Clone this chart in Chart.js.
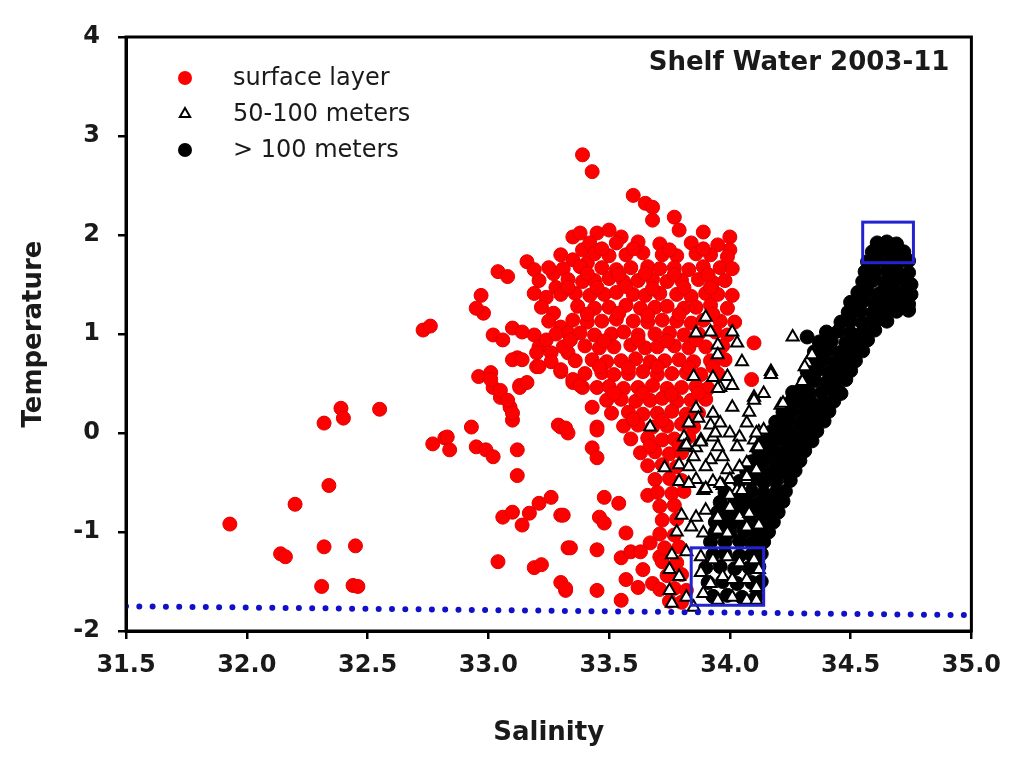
<!DOCTYPE html>
<html>
<head>
<meta charset="utf-8">
<script src="https://cdn.jsdelivr.net/npm/chart.js@4.4.1/dist/chart.umd.min.js"></script>
<style>
  html, body { margin: 0; padding: 0; background: #fff; overflow: hidden; }
  #wrap { width: 1013px; height: 762px; position: relative; }
</style>
</head>
<body>
<div id="wrap"><canvas id="tsChart"></canvas></div>
<script>
// T-S diagram, shelf water, Nov 2003
const chartTitle = 'Shelf Water 2003-11';
const xTitle = 'Salinity';
const yTitle = 'Temperature';
const salinityTicks = [31.5, 32.0, 32.5, 33.0, 33.5, 34.0, 34.5, 35.0];
const temperatureTicks = [-2, -1, 0, 1, 2, 3, 4];
const seriesLabels = ['surface layer', '50-100 meters', '> 100 meters'];

// [salinity, temperature]
const surfaceLayer = [
  [31.93,-0.92],[32.14,-1.22],[32.16,-1.25],[32.20,-0.72],[32.32,0.10],[32.39,0.25],[32.40,0.15],
  [32.55,0.24],[32.34,-0.53],[32.32,-1.15],[32.45,-1.14],[32.31,-1.55],[32.44,-1.54],[32.46,-1.55],
  [32.73,1.04],[32.76,1.08],[32.77,-0.11],[32.82,-0.05],[32.84,-0.17],[32.83,-0.04],[32.93,0.06],
  [32.95,-0.14],[32.99,-0.17],[33.02,-0.24],[33.12,-0.17],[33.12,-0.43],[33.29,0.08],[33.33,0.00],
  [33.06,-0.85],[33.10,-0.80],[33.14,-0.93],[33.17,-0.81],[33.21,-0.71],[33.26,-0.65],[33.30,-0.83],
  [33.04,-1.30],[33.19,-1.36],[33.22,-1.33],[33.33,-1.16],[33.30,-1.51],[33.32,-1.59],
  [32.97,1.39],[32.98,1.21],[32.95,1.26],[33.04,1.63],[33.08,1.58],[33.16,1.73],[33.19,1.65],
  [33.02,0.99],[33.06,0.94],[32.96,0.57],[33.01,0.61],[33.02,0.46],[33.05,0.36],[33.09,0.26],
  [33.10,0.13],[33.13,0.48],[33.10,1.06],[33.12,0.76],[33.19,0.99],[33.20,0.67],[33.26,0.81],
  [33.30,0.62],[33.21,0.87],[33.35,0.51],[33.14,1.02],[33.19,1.41],[33.24,1.37],[33.27,1.61],
  [33.28,1.47],[33.35,1.98],[33.38,2.02],[33.39,1.85],[33.41,1.72],[33.35,1.75],[33.45,2.02],
  [33.50,2.05],[33.55,1.98],[33.60,2.40],[33.01,0.54],[33.05,0.43],[33.08,0.33],[33.10,0.20],
  [33.13,0.46],[33.16,0.51],[33.10,0.74],[33.14,0.74],[33.20,0.81],[33.21,0.67],[33.26,0.72],
  [33.30,0.64],[33.33,0.81],[33.35,0.54],[33.39,0.46],[33.43,0.26],[33.45,0.06],[33.30,0.06],
  [33.27,1.21],[33.30,1.07],[33.33,1.01],[33.24,0.94],
  [33.39,2.81],[33.43,2.64],[33.65,2.32],[33.68,2.28],[33.68,2.15],[33.77,2.18],[33.79,2.05],
  [33.89,2.03],[34.00,1.98],[34.00,1.85],[34.10,0.91],[34.09,0.54],
  [33.38,0.48],[33.45,0.03],[33.32,0.05],[33.43,-0.15],[33.45,-0.25],[33.48,-0.65],[33.54,-0.71],
  [33.46,-0.85],[33.48,-0.91],[33.31,-0.83],[33.57,-1.01],[33.67,-1.11],[33.34,-1.16],[33.45,-1.18],
  [33.55,-1.26],[33.59,-1.20],[33.63,-1.20],[33.66,-0.63],[33.64,-1.38],[33.57,-1.48],[33.62,-1.56],
  [33.55,-1.69],[33.45,-1.59],[33.32,-1.57],[33.68,-1.52],[33.71,-1.25],
  [33.42,1.92],[33.53,1.92],[33.62,1.93],[33.71,1.91],[33.84,1.92],[33.95,1.90],
  [33.30,1.80],[33.44,1.81],[33.50,1.79],[33.57,1.80],[33.64,1.82],[33.72,1.80],[33.78,1.79],[33.86,1.81],[33.92,1.80],[33.99,1.78],
  [33.25,1.67],[33.31,1.66],[33.38,1.68],[33.47,1.67],[33.53,1.65],[33.59,1.67],[33.66,1.68],[33.71,1.66],[33.77,1.67],[33.83,1.65],[33.89,1.68],[33.96,1.67],[34.01,1.66],
  [33.21,1.54],[33.33,1.55],[33.39,1.53],[33.44,1.54],[33.50,1.56],[33.56,1.53],[33.62,1.54],[33.68,1.55],[33.74,1.53],[33.80,1.54],[33.87,1.55],[33.93,1.52],[33.98,1.54],
  [33.30,1.40],[33.36,1.41],[33.42,1.39],[33.48,1.40],[33.53,1.42],[33.60,1.40],[33.65,1.39],[33.71,1.41],[33.78,1.40],[33.84,1.38],[33.90,1.41],[33.95,1.40],[34.01,1.39],
  [33.22,1.27],[33.37,1.28],[33.44,1.26],[33.50,1.27],[33.57,1.29],[33.63,1.26],[33.69,1.27],[33.74,1.28],[33.81,1.26],[33.86,1.27],[33.92,1.29],[33.99,1.26],
  [33.25,1.13],[33.35,1.14],[33.41,1.12],[33.47,1.13],[33.53,1.15],[33.60,1.13],[33.66,1.12],[33.72,1.14],[33.78,1.13],[33.84,1.11],[33.89,1.14],[33.96,1.13],[34.02,1.12],
  [33.28,1.00],[33.38,1.01],[33.44,0.99],[33.51,1.00],[33.56,1.02],[33.62,0.99],[33.69,1.00],[33.75,1.01],[33.81,0.99],[33.87,1.00],[33.94,1.02],[33.99,0.99],
  [33.31,0.87],[33.40,0.88],[33.46,0.86],[33.52,0.87],[33.59,0.89],[33.65,0.86],[33.70,0.87],[33.77,0.88],[33.83,0.86],[33.90,0.87],[33.97,0.88],
  [33.36,0.73],[33.43,0.74],[33.49,0.72],[33.55,0.73],[33.61,0.75],[33.67,0.72],[33.73,0.73],[33.79,0.74],[33.85,0.72],[33.92,0.73],[33.98,0.74],
  [33.40,0.60],[33.47,0.61],[33.52,0.59],[33.58,0.60],[33.64,0.62],[33.70,0.59],[33.76,0.60],[33.82,0.61],[33.88,0.59],[33.95,0.60],
  [33.45,0.46],[33.50,0.47],[33.56,0.45],[33.62,0.46],[33.68,0.48],[33.74,0.45],[33.80,0.46],[33.86,0.47],[33.91,0.45],
  [33.49,0.33],[33.55,0.34],[33.61,0.32],[33.67,0.33],[33.72,0.35],[33.78,0.32],[33.84,0.33],[33.90,0.34],
  [33.51,0.20],[33.58,0.21],[33.64,0.19],[33.70,0.20],[33.76,0.22],[33.82,0.19],[33.87,0.20],
  [33.56,0.07],[33.62,0.08],[33.68,0.06],[33.74,0.07],[33.80,0.09],[33.85,0.06],
  [33.59,-0.06],[33.66,-0.05],[33.72,-0.07],[33.77,-0.06],[33.83,-0.04],
  [33.63,-0.20],[33.69,-0.19],[33.75,-0.21],[33.80,-0.20],
  [33.66,-0.33],[33.72,-0.32],[33.78,-0.34],
  [33.69,-0.47],[33.75,-0.46],[33.80,-0.48],
  [33.70,-0.60],[33.76,-0.61],[33.81,-0.59],
  [33.71,-0.74],[33.77,-0.73],[33.72,-0.88],[33.78,-0.87],[33.71,-1.02],[33.77,-1.03],
  [33.73,-1.16],[33.79,-1.15],[33.72,-1.30],[33.78,-1.31],[33.74,-1.44],[33.80,-1.43],
  [33.71,-1.58],[33.77,-1.57],[33.82,-1.59],[33.75,-1.70],[33.80,-1.71],
  // in-fill between rows of the dense core
  [33.47,1.86],[33.60,1.86],[33.75,1.85],[33.89,1.86],
  [33.41,1.61],[33.54,1.60],[33.65,1.61],[33.77,1.60],[33.91,1.60],
  [33.33,1.47],[33.45,1.47],[33.57,1.48],[33.68,1.46],[33.81,1.47],[33.92,1.47],
  [33.41,1.20],[33.54,1.21],[33.66,1.19],[33.79,1.20],[33.93,1.20],
  [33.34,0.94],[33.48,0.93],[33.62,0.94],[33.74,0.93],[33.86,0.94],
  [33.46,0.67],[33.58,0.66],[33.70,0.67],[33.83,0.66],[33.93,0.67],
  [33.52,0.40],[33.64,0.40],[33.76,0.39],[33.87,0.40],
  [33.60,0.14],[33.72,0.13],[33.83,0.14],
  [33.67,-0.13],[33.79,-0.12]
];

const midDepth = [
  [33.90,1.17],[33.86,1.01],[33.92,1.02],[34.01,1.02],[33.95,0.89],[34.03,0.91],[33.95,0.79],
  [34.05,0.72],[34.26,0.97],[34.32,0.71],[34.17,0.62],[33.85,0.57],[33.93,0.56],[33.99,0.57],
  [33.96,0.46],[34.14,0.40],[34.10,0.36],[34.21,0.28],[34.08,0.21],[33.86,0.25],[34.01,0.26],
  [33.67,0.06],[33.83,0.10],[33.87,0.15],[33.92,0.08],[33.96,0.10],[33.81,-0.04],[33.88,-0.07],
  [33.93,-0.04],[34.00,0.00],[34.04,-0.04],[34.10,-0.07],[34.12,0.01],[33.81,-0.14],[33.86,-0.15],
  [33.95,-0.14],[34.03,-0.14],[34.11,-0.15],[33.85,-0.24],[33.92,-0.27],[33.97,-0.24],[34.07,-0.30],
  [33.79,-0.32],[33.73,-0.35],[33.83,-0.34],[33.90,-0.34],[33.99,-0.37],[34.04,-0.34],[33.79,-0.49],
  [33.86,-0.47],[33.93,-0.49],[34.00,-0.47],[34.07,-0.47],[33.89,-0.58],[33.97,-0.53],[34.03,-0.58],
  [34.34,0.79],[34.31,0.67],[34.30,0.52],[34.14,0.03],[33.95,0.45],[34.01,0.48],[33.93,0.20],
  [34.10,0.33],[34.17,0.59],[34.22,0.30],[33.82,-0.12],[33.88,-0.09],[33.94,0.00],[34.07,0.10],
  [34.11,0.00],[34.12,-0.14],[34.07,-0.44],[34.11,-0.37],[33.83,-0.51],[33.90,-0.56],[33.96,-0.51],
  [34.00,-0.63],[34.05,-0.58],[33.80,-0.83],[33.86,-0.85],[33.90,-0.78],[33.95,-0.85],[34.00,-0.75],
  [34.04,-0.85],[34.08,-0.81],[33.78,-1.00],[33.84,-0.95],[33.89,-1.01],[33.95,-0.98],[33.99,-1.01],
  [34.07,-0.95],[34.12,-0.93],[33.76,-1.23],[33.82,-1.20],[33.88,-1.25],[33.93,-1.28],[33.99,-1.25],
  [34.04,-1.31],[34.10,-1.28],[34.12,-1.38],[33.75,-1.38],[33.79,-1.45],[33.88,-1.41],[33.92,-1.52],
  [33.97,-1.45],[34.01,-1.48],[34.07,-1.48],[34.11,-1.56],[33.75,-1.59],[33.82,-1.66],[33.89,-1.62],
  [33.95,-1.69],[34.01,-1.66],[34.07,-1.69],[34.11,-1.69],[33.76,-1.72],[33.85,-1.76]
];

const deepLayer = [
  [34.61,1.92],[34.65,1.93],[34.69,1.91],
  [34.59,1.83],[34.63,1.84],[34.67,1.82],[34.72,1.83],
  [34.57,1.73],[34.61,1.74],[34.66,1.72],[34.70,1.73],[34.74,1.74],
  [34.56,1.63],[34.60,1.62],[34.65,1.64],[34.69,1.63],[34.74,1.62],
  [34.55,1.53],[34.59,1.54],[34.64,1.52],[34.68,1.53],[34.73,1.54],[34.75,1.50],
  [34.53,1.42],[34.57,1.43],[34.62,1.41],[34.67,1.42],[34.72,1.43],[34.75,1.40],
  [34.50,1.32],[34.55,1.33],[34.60,1.31],[34.65,1.32],[34.70,1.33],[34.74,1.30],
  [34.49,1.22],[34.54,1.23],[34.59,1.21],[34.64,1.22],[34.69,1.23],[34.74,1.24],
  [34.46,1.12],[34.50,1.13],[34.55,1.11],[34.60,1.12],[34.65,1.13],
  [34.32,0.97],[34.40,1.02],[34.45,1.03],[34.50,1.01],[34.55,1.02],[34.60,1.04],
  [34.37,0.92],[34.42,0.93],[34.48,0.91],[34.53,0.92],[34.57,0.94],
  [34.35,0.82],[34.40,0.83],[34.45,0.81],[34.50,0.82],[34.55,0.83],
  [34.34,0.72],[34.38,0.73],[34.43,0.71],[34.48,0.72],[34.52,0.73],
  [34.32,0.62],[34.36,0.63],[34.41,0.61],[34.46,0.62],[34.50,0.63],
  [34.31,0.52],[34.35,0.53],[34.40,0.51],[34.45,0.52],[34.48,0.54],
  [34.26,0.41],[34.29,0.42],[34.33,0.40],[34.38,0.41],[34.43,0.42],[34.46,0.40],
  [34.25,0.31],[34.29,0.32],[34.34,0.30],[34.39,0.31],[34.43,0.32],
  [34.22,0.21],[34.26,0.22],[34.31,0.20],[34.36,0.21],[34.41,0.22],
  [34.19,0.11],[34.24,0.12],[34.29,0.10],[34.34,0.11],[34.39,0.12],
  [34.17,0.01],[34.22,0.02],[34.26,0.00],[34.31,0.01],[34.36,0.02],
  [34.14,-0.09],[34.19,-0.08],[34.24,-0.10],[34.29,-0.09],[34.34,-0.08],
  [34.12,-0.19],[34.17,-0.18],[34.22,-0.20],[34.26,-0.19],[34.31,-0.18],
  [34.09,-0.29],[34.14,-0.28],[34.19,-0.30],[34.24,-0.29],[34.29,-0.28],
  [34.07,-0.39],[34.12,-0.38],[34.17,-0.40],[34.22,-0.39],[34.27,-0.38],
  [34.04,-0.49],[34.09,-0.48],[34.14,-0.50],[34.19,-0.49],[34.25,-0.48],
  [33.98,-0.60],[34.04,-0.60],[34.09,-0.59],[34.14,-0.61],[34.19,-0.60],[34.23,-0.59],
  [33.96,-0.70],[34.02,-0.70],[34.07,-0.69],[34.12,-0.71],[34.17,-0.70],[34.22,-0.69],
  [33.95,-0.80],[34.00,-0.81],[34.05,-0.80],[34.10,-0.79],[34.15,-0.81],[34.20,-0.80],
  [33.94,-0.90],[33.98,-0.91],[34.03,-0.90],[34.08,-0.89],[34.13,-0.91],[34.18,-0.90],
  [33.94,-1.00],[34.00,-1.00],[34.06,-0.99],[34.11,-1.01],[34.16,-1.00],
  [33.92,-1.10],[33.98,-1.10],[34.04,-1.09],[34.09,-1.11],[34.14,-1.10],
  [33.93,-1.23],[33.98,-1.22],[34.04,-1.24],[34.09,-1.23],[34.13,-1.22],
  [33.90,-1.36],[33.96,-1.35],[34.02,-1.37],[34.08,-1.36],[34.12,-1.35],
  [33.91,-1.51],[33.97,-1.50],[34.03,-1.52],[34.09,-1.51],[34.13,-1.50],
  [33.93,-1.65],[33.99,-1.64],[34.05,-1.66],[34.11,-1.65]
];

// freezing-point reference line (dotted)
const freezingLine = [[31.5, -1.75], [35.0, -1.84]];

// highlighted water-mass boxes [sMin, sMax, tMin, tMax]
const boxes = [
  [34.55, 34.76, 1.72, 2.13],
  [33.84, 34.14, -1.74, -1.16]
];

const toXY = arr => arr.map(p => ({ x: p[0], y: p[1] }));

const frame = {
  id: 'frame',
  afterDatasetsDraw(chart) {
    const { ctx, chartArea: a, scales: { x, y } } = chart;
    ctx.save();
    // blue boxes
    ctx.strokeStyle = '#2323d2';
    ctx.lineWidth = 3;
    boxes.forEach(b => {
      const x0 = x.getPixelForValue(b[0]), x1 = x.getPixelForValue(b[1]);
      const y0 = y.getPixelForValue(b[3]), y1 = y.getPixelForValue(b[2]);
      ctx.strokeRect(x0, y0, x1 - x0, y1 - y0);
    });
    // plot frame
    ctx.strokeStyle = '#000';
    ctx.lineWidth = 3;
    ctx.strokeRect(a.left, a.top, a.right - a.left, a.bottom - a.top);
    // title inside plot
    ctx.fillStyle = '#1a1a1a';
    ctx.font = 'bold 26px "DejaVu Sans"';
    ctx.textAlign = 'right';
    ctx.textBaseline = 'middle';
    ctx.fillText(chartTitle, a.right - 22, a.top + 26);
    // legend
    const mx = a.left + 59, tx = a.left + 107;
    const rows = [a.top + 41, a.top + 77, a.top + 113];
    ctx.font = '24px "DejaVu Sans"';
    ctx.textAlign = 'left';
    seriesLabels.forEach((lab, i) => {
      const yy = rows[i];
      ctx.lineWidth = 2;
      if (i === 1) {
        const r = 6;
        ctx.beginPath();
        ctx.moveTo(mx, yy - r);
        ctx.lineTo(mx + r * 0.866, yy + r * 0.5);
        ctx.lineTo(mx - r * 0.866, yy + r * 0.5);
        ctx.closePath();
        ctx.fillStyle = '#fff';
        ctx.fill();
        ctx.strokeStyle = '#000';
        ctx.stroke();
      } else {
        ctx.beginPath();
        ctx.arc(mx, yy, 7, 0, Math.PI * 2);
        ctx.fillStyle = i === 0 ? '#ff0000' : '#000';
        ctx.fill();
      }
      ctx.fillStyle = '#1a1a1a';
      ctx.fillText(lab, tx, yy + 1);
    });
    ctx.restore();
  }
};

new Chart(document.getElementById('tsChart'), {
  type: 'scatter',
  data: {
    datasets: [
      {
        label: seriesLabels[0],
        data: toXY(surfaceLayer),
        backgroundColor: '#ff0000',
        borderColor: '#e00000',
        borderWidth: 1,
        pointRadius: 7,
        order: 3
      },
      {
        label: seriesLabels[1],
        data: toXY(midDepth),
        pointStyle: 'triangle',
        backgroundColor: '#ffffff',
        borderColor: '#000000',
        borderWidth: 2,
        pointRadius: 7,
        order: 1
      },
      {
        label: seriesLabels[2],
        data: toXY(deepLayer),
        backgroundColor: '#000000',
        borderColor: '#000000',
        borderWidth: 1,
        pointRadius: 7,
        order: 2
      },
      {
        label: 'freezing',
        data: toXY(freezingLine),
        type: 'line',
        showLine: true,
        pointRadius: 0,
        borderColor: '#1010c8',
        borderWidth: 6,
        borderDash: [0, 13.3],
        borderCapStyle: 'round',
        fill: false,
        order: 0
      }
    ]
  },
  options: {
    responsive: true,
    maintainAspectRatio: false,
    animation: false,
    events: [],
    layout: { padding: { top: 37, right: 39, left: 0, bottom: 0 } },
    plugins: {
      legend: { display: false },
      tooltip: { enabled: false }
    },
    scales: {
      x: {
        type: 'linear',
        min: 31.5,
        max: 35.0,
        afterBuildTicks: s => { s.ticks = salinityTicks.map(v => ({ value: v })); },
        afterFit: s => { s.height = 131; },
        ticks: {
          autoSkip: false,
          maxRotation: 0,
          padding: 12,
          color: '#1a1a1a',
          font: { family: 'DejaVu Sans', size: 24, weight: 'bold' },
          callback: v => v.toFixed(1)
        },
        grid: { drawOnChartArea: false, drawTicks: true, tickLength: 8, color: '#000', lineWidth: 2.5 },
        border: { display: true, color: '#000', width: 3 },
        title: {
          display: true,
          text: xTitle,
          color: '#1a1a1a',
          font: { family: 'DejaVu Sans', size: 26, weight: 'bold' },
          padding: { top: 0, bottom: 13 }
        }
      },
      y: {
        type: 'linear',
        min: -2,
        max: 4,
        afterBuildTicks: s => { s.ticks = temperatureTicks.map(v => ({ value: v })); },
        afterFit: s => { s.width = 126; },
        ticks: {
          autoSkip: false,
          padding: 18,
          color: '#1a1a1a',
          font: { family: 'DejaVu Sans', size: 24, weight: 'bold' },
          callback: v => String(v)
        },
        grid: { drawOnChartArea: false, drawTicks: true, tickLength: 8, color: '#000', lineWidth: 2.5 },
        border: { display: true, color: '#000', width: 3 },
        title: {
          display: true,
          text: yTitle,
          color: '#1a1a1a',
          font: { family: 'DejaVu Sans', size: 26, weight: 'bold' },
          padding: { top: 19, bottom: 0 }
        }
      }
    }
  },
  plugins: [frame]
});
</script>
</body>
</html>
